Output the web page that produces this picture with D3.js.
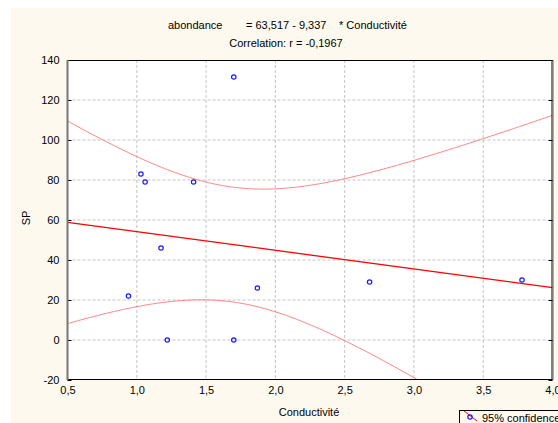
<!DOCTYPE html>
<html>
<head>
<meta charset="utf-8">
<script src="https://cdn.jsdelivr.net/npm/d3@7/dist/d3.min.js"></script>
<style>
  html, body { margin: 0; padding: 0; background: #ffffff; }
  svg { display: block; }
  text { font-family: "Liberation Sans", Arial, sans-serif; font-size: 11px; fill: #000; }
</style>
</head>
<body>
<svg id="chart" width="558" height="423"></svg>
<script>
// Observations: conductivity (x) and SP abundance (y)
const conductivite = [1.03, 1.06, 1.41, 1.70, 1.175, 0.94, 1.22, 1.70, 1.87, 2.68, 3.78];
const sp           = [83,   79,   79,   131.5, 46,   22,   0,    0,    26,   29,   30];

// Fitted regression: abondance = 63,517 - 9,337 * Conductivité
const intercept = 63.517;
const slope = -9.337;
const correlation = -0.1967;

// Axis ticks
const xTicks = [0.5, 1.0, 1.5, 2.0, 2.5, 3.0, 3.5, 4.0];
const yTicks = [-20, 0, 20, 40, 60, 80, 100, 120, 140];

// Decimal comma and a plain hyphen for negatives
const fmt = v => d3.format(",")(v).replace(".", ",").replace("\u2212", "-");
const fmtX = v => d3.format(".1f")(v).replace(".", ",");

const svg = d3.select("#chart");
const W = 558, H = 423;
const m = { left: 67.5, right: 5.5, top: 60, bottom: 43 };

// Panel background
svg.append("rect").attr("x", 11).attr("y", 8).attr("width", W - 11).attr("height", H - 8)
  .attr("fill", "#fdf9ef");

const x = d3.scaleLinear().domain([0.5, 4.0]).range([m.left, W - m.right]);
const y = d3.scaleLinear().domain([-20, 140]).range([H - m.bottom, m.top]);

// Plot area
svg.append("rect")
  .attr("x", x(0.5)).attr("y", y(140))
  .attr("width", x(4.0) - x(0.5)).attr("height", y(-20) - y(140))
  .attr("fill", "#ffffff");

// Dashed grid
const grid = svg.append("g").attr("stroke", "#c4c4c4").attr("stroke-dasharray", "3,2").attr("stroke-width", 1);
xTicks.slice(1, -1).forEach(t => {
  grid.append("line").attr("x1", x(t)).attr("x2", x(t)).attr("y1", y(140)).attr("y2", y(-20));
});
yTicks.slice(1, -1).forEach(t => {
  grid.append("line").attr("x1", x(0.5)).attr("x2", x(4.0)).attr("y1", y(t)).attr("y2", y(t));
});

// 95% confidence band for the mean response
const n = conductivite.length;
const xbar = d3.mean(conductivite);
const sxx = d3.sum(conductivite, v => (v - xbar) ** 2);
const sse = d3.sum(conductivite, (v, i) => (sp[i] - (intercept + slope * v)) ** 2);
const s = Math.sqrt(sse / (n - 2));
const tCrit = 2.262; // t(0.975, 9 df)
const xs = d3.range(0.5, 4.0001, 0.02);
const half = xv => tCrit * s * Math.sqrt(1 / n + (xv - xbar) ** 2 / sxx);

svg.append("clipPath").attr("id", "plotclip").append("rect")
  .attr("x", x(0.5)).attr("y", y(140)).attr("width", x(4.0) - x(0.5)).attr("height", y(-20) - y(140));

const line = d3.line().x(d => x(d[0])).y(d => y(d[1]));
const plot = svg.append("g").attr("clip-path", "url(#plotclip)");

plot.append("path").datum(xs.map(v => [v, intercept + slope * v + half(v)]))
  .attr("d", line).attr("fill", "none").attr("stroke", "#ff8585").attr("stroke-width", 1);
plot.append("path").datum(xs.map(v => [v, intercept + slope * v - half(v)]))
  .attr("d", line).attr("fill", "none").attr("stroke", "#ff8585").attr("stroke-width", 1);

// Regression line
plot.append("path").datum([0.5, 4.0].map(v => [v, intercept + slope * v]))
  .attr("d", line).attr("fill", "none").attr("stroke", "#ff0000").attr("stroke-width", 1.3);

// Points
plot.selectAll("circle.pt").data(conductivite).join("circle")
  .attr("class", "pt")
  .attr("cx", d => x(d)).attr("cy", (d, i) => y(sp[i]))
  .attr("r", 2.2).attr("fill", "none").attr("stroke", "#1a1aff").attr("stroke-width", 1.2);

// Axes (ticks pointing inward)
const axL = svg.append("g").attr("transform", `translate(${x(0.5)},0)`)
  .call(d3.axisLeft(y).tickValues(yTicks).tickFormat(fmt).tickSize(-4).tickPadding(8));
const axR = svg.append("g").attr("transform", `translate(${x(4.0)},0)`)
  .call(d3.axisRight(y).tickValues(yTicks).tickFormat("").tickSize(-4));
const axB = svg.append("g").attr("transform", `translate(0,${y(-20)})`)
  .call(d3.axisBottom(x).tickValues(xTicks).tickFormat(fmtX).tickSize(0).tickPadding(6));
[axL, axR, axB].forEach(g => {
  g.select(".domain").remove();
  g.selectAll("line").attr("stroke", "#000");
  g.selectAll("text").style("font-family", "'Liberation Sans', Arial, sans-serif").style("font-size", "11px").attr("fill", "#000");
});

// Frame
svg.append("line").attr("x1", x(0.5)).attr("x2", x(4.0)).attr("y1", y(140) + 0.5).attr("y2", y(140) + 0.5).attr("stroke", "#000");
svg.append("line").attr("x1", x(0.5)).attr("x2", x(4.0)).attr("y1", y(-20) - 0.5).attr("y2", y(-20) - 0.5).attr("stroke", "#000");
svg.append("line").attr("x1", x(0.5)).attr("x2", x(0.5)).attr("y1", y(140)).attr("y2", y(-20)).attr("stroke", "#777").attr("stroke-width", 2);
svg.append("line").attr("x1", x(4.0) - 0.5).attr("x2", x(4.0) - 0.5).attr("y1", y(140)).attr("y2", y(-20)).attr("stroke", "#000");
svg.append("line").attr("x1", x(4.0) + 1).attr("x2", x(4.0) + 1).attr("y1", y(140)).attr("y2", y(-20)).attr("stroke", "#aaa");

// Title
svg.append("text").attr("x", 168).attr("y", 29).text("abondance");
svg.append("text").attr("x", 246).attr("y", 29).text(`= ${fmt(intercept)} - ${fmt(-slope)}`);
svg.append("text").attr("x", 339).attr("y", 29).text("* Conductivité");
svg.append("text").attr("x", 286).attr("y", 47).attr("text-anchor", "middle")
  .text(`Correlation: r = ${fmt(correlation)}`);

// Axis titles
svg.append("text").attr("x", 309).attr("y", 416).attr("text-anchor", "middle").text("Conductivité");
svg.append("text").attr("transform", "translate(30,218) rotate(-90)").attr("text-anchor", "middle").text("SP");

// Legend
const lg = svg.append("g");
lg.append("rect").attr("x", 459.5).attr("y", 410.5).attr("width", 110).attr("height", 20)
  .attr("fill", "#fdf9ef").attr("stroke", "#000");
lg.append("line").attr("x1", 464).attr("y1", 411).attr("x2", 477).attr("y2", 421).attr("stroke", "#ff0000");
lg.append("circle").attr("cx", 470).attr("cy", 417).attr("r", 2.2).attr("fill", "none").attr("stroke", "#1a1aff").attr("stroke-width", 1.2);
lg.append("text").attr("x", 482).attr("y", 422).text("95% confidence");
</script>
</body>
</html>
